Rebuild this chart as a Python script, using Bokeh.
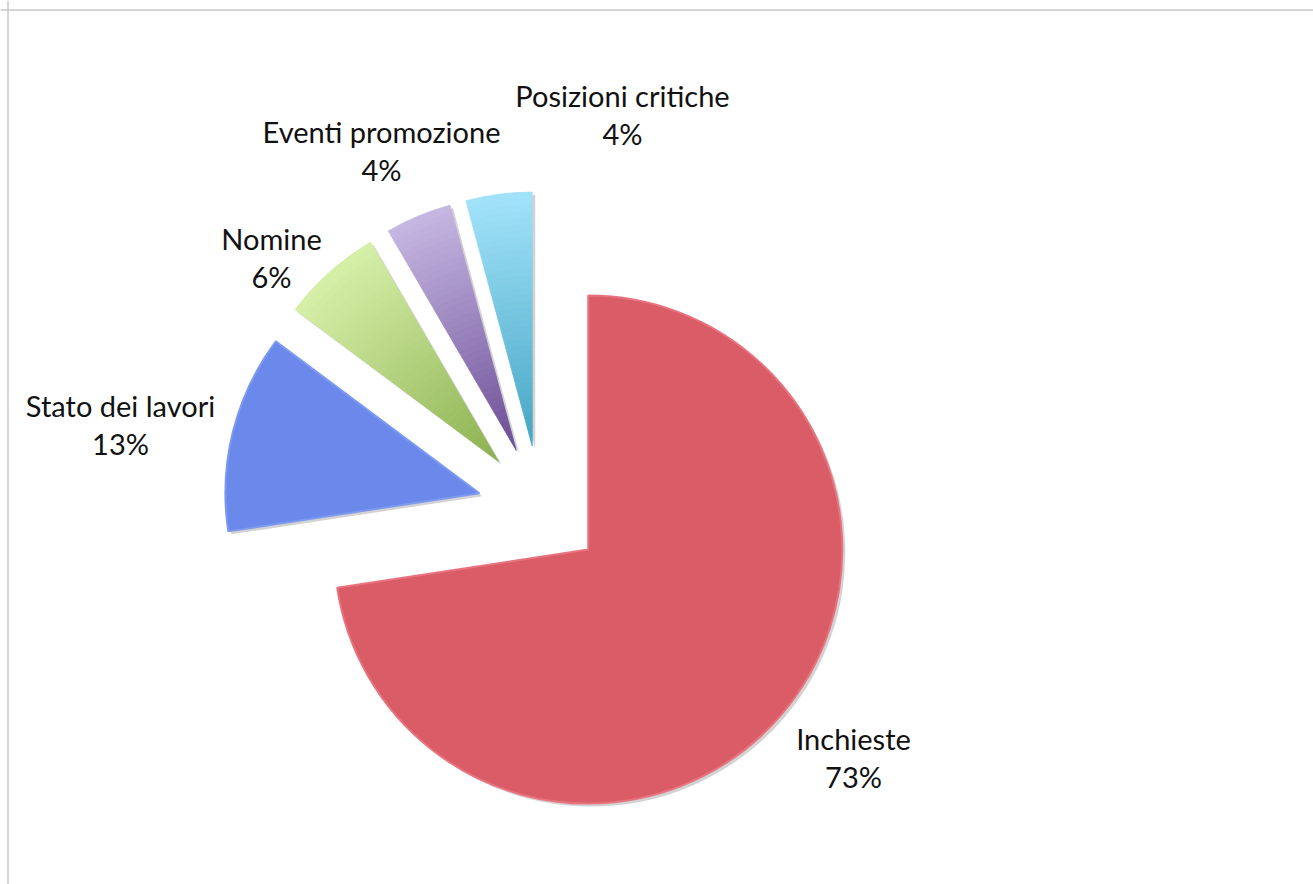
import numpy as np
from bokeh.plotting import figure
from bokeh.models import Range1d, Span
from bokeh.core.properties import value
from bokeh.embed import file_html
from bokeh.resources import INLINE

# ---- data ----
categories = ["Inchieste", "Stato dei lavori", "Nomine", "Eventi promozione", "Posizioni critiche"]
shares = [72.6, 12.6, 6.4, 4.2, 4.2]   # percent of total, clockwise from 12 o'clock

# ---- styles ----
outer_colors = ["#D95C67", "#6A89EB", "#D6F0A8", "#C6B7E2", "#A2E3FA"]
inner_colors = ["#D95C67", "#6A89EB", "#8BB04F", "#6A4C95", "#45A5C3"]
edge_colors = ["#E8737E", "#7E9AF0", None, None, None]

# label anchor positions (page pixels: x centre, y centre of first line)
label_pos = [(853, 738), (120, 405), (271, 238), (381, 131), (622, 95)]
line_gap = 38

W, H = 1313, 884
def fx(px):
    return px
def fy(py):
    return H - py

C = (fx(540), fy(508))
R = 254.0
EXPLODE = 63.0

p = figure(width=W, height=H, x_range=Range1d(0, W), y_range=Range1d(0, H),
           output_backend="svg", toolbar_location=None,
           x_axis_location=None, y_axis_location=None, min_border=0,
           outline_line_color=None)
p.grid.visible = False
p.background_fill_color = "white"
p.border_fill_color = "white"

p.add_layout(Span(location=fy(9.5), dimension="width", line_color="#c8c8c8", line_width=1.5))
p.add_layout(Span(location=fx(7.5), dimension="height", line_color="#c8c8c8", line_width=1.5))

def hex2rgb(h):
    h = h.lstrip("#")
    return np.array([int(h[i:i + 2], 16) for i in (0, 2, 4)], dtype=float)

def rgb2hex(c):
    return "#%02x%02x%02x" % tuple(int(round(v)) for v in c)

total = float(sum(shares))
cum = np.concatenate([[0.0], np.cumsum(shares)]) / total
starts = np.pi / 2 - cum[:-1] * 2 * np.pi
ends = np.pi / 2 - cum[1:] * 2 * np.pi
mids = (starts + ends) / 2
cxs = C[0] + EXPLODE * np.cos(mids)
cys = C[1] + EXPLODE * np.sin(mids)

# shadows
p.wedge(x=list(cxs + 3), y=list(cys - 3), radius=R, start_angle=list(starts),
        end_angle=list(ends), direction="clock", fill_color="#cdcdcd",
        fill_alpha=0.9, line_color=None)

N = 40
for i in range(len(shares)):
    if outer_colors[i] == inner_colors[i]:
        p.wedge(x=cxs[i], y=cys[i], radius=R, start_angle=starts[i], end_angle=ends[i],
                direction="clock", fill_color=outer_colors[i],
                line_color=edge_colors[i], line_width=2)
    else:
        c0 = hex2rgb(inner_colors[i])
        c1 = hex2rgb(outer_colors[i])
        inner_r = [R * k / N for k in range(N)]
        outer_r = [R * (k + 1) / N for k in range(N)]
        cols = [rgb2hex(c0 + (c1 - c0) * (k + 0.5) / N) for k in range(N)]
        p.annular_wedge(x=[cxs[i]] * N, y=[cys[i]] * N, inner_radius=inner_r,
                        outer_radius=outer_r, start_angle=starts[i], end_angle=ends[i],
                        direction="clock", fill_color=cols, line_color=cols, line_width=0.8)

# labels
names_x, names_y, pct_x, pct_y = [], [], [], []
pct_text = [f"{round(s / total * 100)}%" for s in shares]
for (lx, ly) in label_pos:
    names_x.append(fx(lx)); names_y.append(fy(ly))
    pct_x.append(fx(lx)); pct_y.append(fy(ly + line_gap))

p.text(x=names_x, y=names_y, text=categories, text_font=value("Lato"),
       text_font_size="29px", text_align="center", text_baseline="middle",
       text_color="#111111")
p.text(x=pct_x, y=pct_y, text=pct_text, text_font=value("Lato"),
       text_font_size="29px", text_align="center", text_baseline="middle",
       text_color="#111111")

open("out.html", "w").write(file_html(p, INLINE))
